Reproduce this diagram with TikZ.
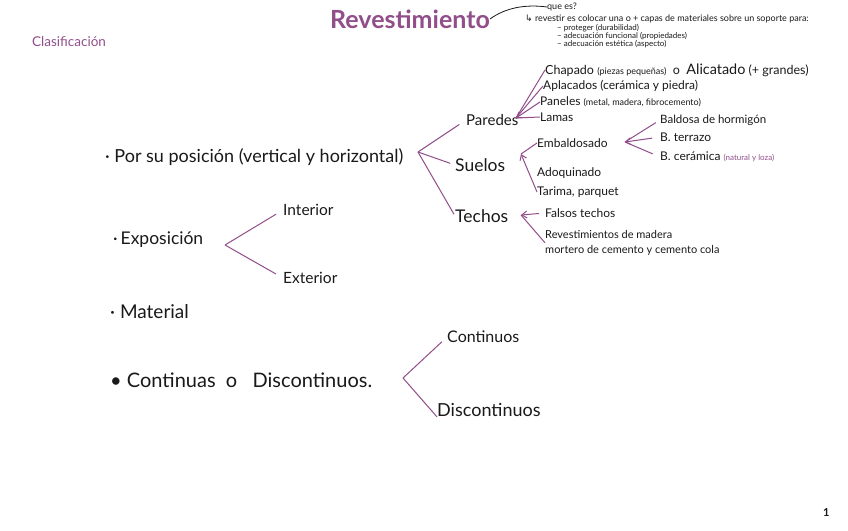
\documentclass[tikz,border=0pt]{standalone}
\usepackage{fontspec}
\setmainfont{Lato}
\newfontfamily\simbolos{DejaVu Sans}
\usepackage{tikz}
\usetikzlibrary{arrows.meta, positioning, calc}
\definecolor{morado}{RGB}{145,78,138}
\definecolor{tinta}{RGB}{25,25,25}

\begin{document}
\begin{tikzpicture}[
    x=1pt, y=-1pt,
    texto/.style={anchor=west, inner sep=0pt, text=tinta},
    grande/.style={texto, font=\fontsize{18}{21}\selectfont},
    medio/.style={texto, font=\fontsize{12}{14}\selectfont},
    mini/.style={texto, font=\fontsize{9}{10}\selectfont},
    rama/.style={morado, line width=1pt},
    flecha/.style={morado, line width=1pt, -{Straight Barb[length=5pt, width=7pt]}}
  ]
    \useasboundingbox (0,0) rectangle (848,530);

    % titulo y definicion
    \node[texto, text=morado, font=\fontsize{13.5}{16}\selectfont] (clasif) at (32,42) {Clasificación};
    \node[texto, text=morado, font=\fontsize{25}{30}\selectfont\bfseries] (titulo) at (330,19) {Revestimiento};
    \node[mini] (quees) at (547,7) {que es?};
    \node[mini] (defin) at (525,19) {{\simbolos ↳} revestir es colocar una o + capas de materiales sobre un soporte para:};
    \node[mini, font=\fontsize{8}{9}\selectfont] (d1) at (557,28) {– proteger (durabilidad)};
    \node[mini, font=\fontsize{8}{9}\selectfont] (d2) at (557,36) {– adecuación funcional (propiedades)};
    \node[mini, font=\fontsize{8}{9}\selectfont] (d3) at (557,44) {– adecuación estética (aspecto)};
    \draw[tinta, line width=0.8pt] (titulo.east) .. controls (505,8) and (525,4) .. (quees.west);

    % por su posicion
    \node[grande] (porsu) at (105,157) {·\ Por su posición (vertical y horizontal)};
    \node[grande, font=\fontsize{15}{18}\selectfont] (paredes) at (466,120) {Paredes};
    \node[grande, font=\fontsize{17.5}{20}\selectfont] (suelos) at (455,165) {Suelos};
    \node[grande, font=\fontsize{17.5}{20}\selectfont] (techos) at (455,216) {Techos};
    \coordinate (v1) at (418,152);
    \draw[rama, shorten >=8pt] (v1) -- (paredes.west);
    \draw[rama, shorten >=5pt] (v1) -- (suelos.west);
    \draw[rama, shorten >=2pt] (v1) -- (techos.west);

    \node[medio, font=\fontsize{12.5}{15}\selectfont] (chapado) at (545,70) {Chapado {\small (piezas pequeñas)} \ o \ {\Large Alicatado} (+ grandes)};
    \node[medio] (aplacados) at (543,86) {Aplacados (cerámica y piedra)};
    \node[medio] (paneles) at (540,102) {Paneles {\small (metal, madera, fibrocemento)}};
    \node[medio] (lamas) at (540,117) {Lamas};
    \coordinate (v2) at (516,118);
    \draw[rama] (chapado.west) -- (v2);
    \draw[rama] (aplacados.west) -- (v2);
    \draw[flecha] (paneles.west) -- (v2);
    \draw[rama] (lamas.west) -- (v2);

    \node[medio] (embaldosado) at (537,143) {Embaldosado};
    \node[medio] (adoquinado) at (537,173) {Adoquinado};
    \node[medio] (tarima) at (537,192) {Tarima, parquet};
    \coordinate (v3) at (521,154);
    \draw[rama] (embaldosado.west) -- (v3);
    \draw[flecha] (tarima.west) -- (v3);

    \node[medio, font=\fontsize{11.5}{14}\selectfont] (baldosa) at (660,120) {Baldosa de hormigón};
    \node[medio] (terrazo) at (660,137) {B. terrazo};
    \node[medio] (ceramica) at (660,157) {B. cerámica {\color{morado}\footnotesize (natural y loza)}};
    \coordinate (v4) at (625,142);
    \draw[rama, shorten <=5pt] (baldosa.west) -- (v4);
    \draw[flecha, shorten <=8pt] (terrazo.west) -- (v4);
    \draw[rama, shorten <=8pt] (ceramica.west) -- (v4);

    \node[medio] (falsos) at (545,213) {Falsos techos};
    \node[medio, font=\fontsize{11}{13}\selectfont] (revmadera) at (545,234) {Revestimientos de madera};
    \node[medio, font=\fontsize{11}{13}\selectfont] (mortero) at (545,250) {mortero de cemento y cemento cola};
    \coordinate (v5) at (521,215);
    \draw[flecha, shorten <=6pt] (falsos.west) -- (v5);
    \draw[rama] ($(revmadera.west)!0.55!(mortero.west)$) -- (v5);

    % exposicion
    \node[texto, font=\fontsize{17.5}{20}\selectfont] (exposicion) at (113,240) {·\,Exposición};
    \node[texto, font=\fontsize{15.5}{18}\selectfont] (interior) at (283,210) {Interior};
    \node[texto, font=\fontsize{15.5}{18}\selectfont] (exterior) at (283,278) {Exterior};
    \coordinate (v6) at (225,245);
    \draw[rama, shorten >=8pt] (v6) -- (interior.west);
    \draw[rama, shorten >=8pt] (v6) -- (exterior.west);

    % material
    \node[texto, font=\fontsize{19}{22}\selectfont] (material) at (110,312) {·\ Material};

    % continuas o discontinuos
    \node[texto, font=\fontsize{20}{23}\selectfont] (continuas) at (110,380) {•\ Continuas \ o \ \ Discontinuos.};
    \node[texto, font=\fontsize{16}{19}\selectfont] (continuos) at (447,337) {Continuos};
    \node[texto, font=\fontsize{18}{21}\selectfont] (discontinuos) at (437,410) {Discontinuos};
    \coordinate (v7) at (403,378);
    \draw[rama, shorten >=7pt] (v7) -- (continuos.west);
    \draw[rama] (v7) -- (discontinuos.south west);

    \node[texto, font=\fontsize{11}{13}\selectfont\bfseries] (pagina) at (823,513) {1};
\end{tikzpicture}
\end{document}
